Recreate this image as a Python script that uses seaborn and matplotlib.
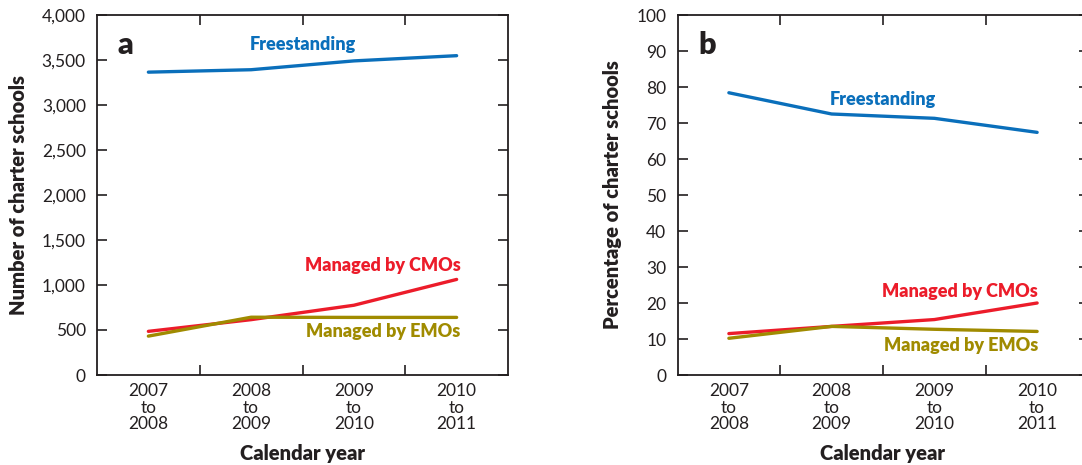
import matplotlib
matplotlib.use("Agg")
import matplotlib.pyplot as plt
import seaborn as sns
import pandas as pd
from matplotlib.ticker import FixedLocator

years = ["2007\nto\n2008", "2008\nto\n2009", "2009\nto\n2010", "2010\nto\n2011"]
series = ["Freestanding", "Managed by CMOs", "Managed by EMOs"]

count_free = [3365, 3392, 3490, 3548]
count_cmo = [485, 615, 775, 1062]
count_emo = [432, 642, 640, 640]

pct_free = [78.4, 72.5, 71.3, 67.4]
pct_cmo = [11.5, 13.5, 15.4, 20.0]
pct_emo = [10.2, 13.5, 12.7, 12.1]

y_ticks_a = [0, 500, 1000, 1500, 2000, 2500, 3000, 3500, 4000]
y_ticks_b = list(range(0, 101, 10))

colors = {"Freestanding": "#0a6fbb", "Managed by CMOs": "#ec1c2a", "Managed by EMOs": "#a08b00"}
TXT = "#231f20"

sns.set_theme(style="white")
plt.rcParams["font.family"] = ["Lato", "DejaVu Sans"]


def long_df(vals):
    rows = []
    for s, v in zip(series, vals):
        for i, y in enumerate(v):
            rows.append({"x": i, "y": y, "series": s})
    return pd.DataFrame(rows)


df_a = long_df([count_free, count_cmo, count_emo])
df_b = long_df([pct_free, pct_cmo, pct_emo])

fig = plt.figure(figsize=(10.82, 4.65), dpi=100)
ax_a = fig.add_axes([97 / 1082, 90 / 465, 411 / 1082, 360 / 465])
ax_b = fig.add_axes([677.5 / 1082, 90 / 465, 411 / 1082, 360 / 465])


def style(ax, df, yticks, ylim, ylabel, fmt):
    sns.lineplot(data=df, x="x", y="y", hue="series", palette=colors, ax=ax,
                 linewidth=2.4, legend=False, sort=False)
    ax.set_xlim(-0.5, 3.5)
    ax.set_ylim(*ylim)
    ax.set_xticks(range(4))
    ax.set_xticklabels(years, fontsize=12.5, color=TXT, linespacing=1.02)
    ax.xaxis.set_minor_locator(FixedLocator([0.5, 1.5, 2.5]))
    ax.tick_params(axis="x", which="major", length=0, pad=6)
    ax.tick_params(axis="x", which="minor", direction="in", length=7, width=1.2,
                   top=True, bottom=True, color=TXT)
    ax.set_yticks(yticks)
    ax.set_yticklabels([fmt(v) for v in yticks], fontsize=12.5, color=TXT)
    ax.tick_params(axis="y", direction="in", length=7, width=1.2, left=True,
                   right=True, color=TXT, pad=8)
    for sp in ax.spines.values():
        sp.set_color(TXT)
        sp.set_linewidth(1.3)
    ax.set_xlabel("Calendar year", fontsize=14.5, fontweight="heavy", color=TXT, labelpad=9)
    ax.set_ylabel(ylabel, fontsize=14.5, fontweight="heavy", color=TXT, labelpad=10)


style(ax_a, df_a, y_ticks_a, (0, 4000), "Number of charter schools", lambda v: f"{v:,}")
style(ax_b, df_b, y_ticks_b, (0, 100), "Percentage of charter schools", lambda v: f"{v}")

kw = dict(fontsize=13, fontweight="heavy")
ax_a.text(-0.3, 3667, "a", fontsize=22, fontweight="heavy", color=TXT, va="center", ha="left")
ax_a.text(1.5, 3667, "Freestanding", color=colors["Freestanding"], ha="center", va="center", **kw)
ax_a.text(3.04, 1222, "Managed by CMOs", color=colors["Managed by CMOs"], ha="right", va="center", **kw)
ax_a.text(3.04, 481, "Managed by EMOs", color=colors["Managed by EMOs"], ha="right", va="center", **kw)

ax_b.text(-0.3, 91.7, "b", fontsize=22, fontweight="heavy", color=TXT, va="center", ha="left")
ax_b.text(1.5, 76.4, "Freestanding", color=colors["Freestanding"], ha="center", va="center", **kw)
ax_b.text(3.01, 23.3, "Managed by CMOs", color=colors["Managed by CMOs"], ha="right", va="center", **kw)
ax_b.text(3.01, 8.1, "Managed by EMOs", color=colors["Managed by EMOs"], ha="right", va="center", **kw)

fig.savefig("out.png", dpi=100)
